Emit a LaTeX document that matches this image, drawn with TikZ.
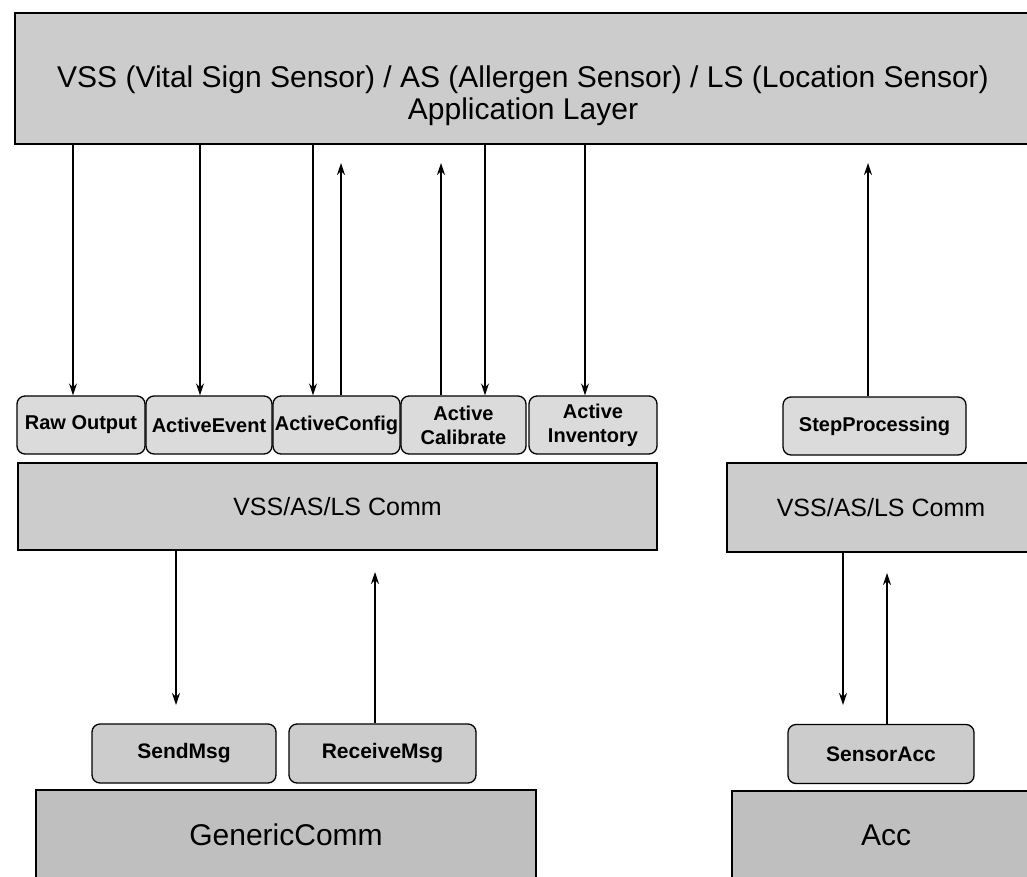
\documentclass[tikz,border=0pt]{standalone}
\usepackage{fontspec}
\setmainfont{Liberation Sans}
\usepackage{tikz}
\usetikzlibrary{positioning,arrows.meta}

\begin{document}
\begin{tikzpicture}[x=1pt, y=-1pt, >={Stealth[length=12pt,width=8pt]},
  layerbox/.style={draw, line width=1.8pt, fill=gray!40, inner sep=0pt},
  basebox/.style={draw, line width=1.8pt, fill=gray!50, inner sep=0pt, font=\fontsize{30}{34}\selectfont},
  callbox/.style={draw, line width=1.3pt, rounded corners=8pt, fill=gray!28, inner sep=1pt, align=center, minimum height=58pt, font=\bfseries\fontsize{20}{24}\selectfont},
  msgbox/.style={draw, line width=1.3pt, rounded corners=8pt, fill=gray!40, inner sep=1pt, minimum height=59pt, font=\bfseries\fontsize{21}{24}\selectfont},
  link/.style={->, line width=1.6pt}]
  \useasboundingbox (0,0) rectangle (1027,877);

  % application layer
  \node[layerbox, minimum width=1020pt, minimum height=131pt] (app) at (525,78.5) {};
  \node[align=center, font=\fontsize{30}{32}\selectfont] (apptitle) at (523,96) {VSS (Vital Sign Sensor) / AS (Allergen Sensor) / LS (Location Sensor)\\Application Layer};

  % left stack
  \node[callbox, minimum width=128pt] (raw) at (81,425) {Raw Output};
  \node[callbox, minimum width=126pt] (event) at (209,425) {ActiveEvent};
  \node[callbox, minimum width=127pt] (config) at (336.5,425) {ActiveConfig};
  \node[callbox, minimum width=125pt] (calib) at (463.5,425) {Active\\Calibrate};
  \node[callbox, minimum width=128pt] (inv) at (593,425) {Active\\Inventory};
  \node[layerbox, minimum width=639pt, minimum height=87pt, font=\fontsize{25}{30}\selectfont] (commL) at (337.5,506.5) {VSS/AS/LS Comm};
  \node[msgbox, minimum width=184pt] (send) at (184,753.5) {SendMsg};
  \node[msgbox, minimum width=187pt] (recv) at (382.5,753.5) {ReceiveMsg};
  \node[basebox, minimum width=500pt, minimum height=90pt] (generic) at (286,835) {GenericComm};

  % right stack
  \node[callbox, minimum width=183pt] (step) at (874.5,426) {StepProcessing};
  \node[layerbox, minimum width=308pt, minimum height=89pt, font=\fontsize{25}{30}\selectfont] (commR) at (881,507.5) {VSS/AS/LS Comm};
  \node[msgbox, minimum width=186pt] (sacc) at (881,754) {SensorAcc};
  \node[basebox, minimum width=308pt, minimum height=89pt] (acc) at (886,835.5) {Acc};

  % free ends
  \coordinate (cfgup) at (341,163);
  \coordinate (calup) at (441,163);
  \coordinate (stepup) at (868,163);
  \coordinate (senddown) at (176,705);
  \coordinate (recvup) at (375,572);
  \coordinate (saccdown) at (843,705);
  \coordinate (saccup) at (887,573);

  % application layer <-> calls
  \draw[link] ([xshift=-8pt]raw.north |- app.south) -- ([xshift=-8pt]raw.north);
  \draw[link] ([xshift=-9pt]event.north |- app.south) -- ([xshift=-9pt]event.north);
  \draw[link] ([xshift=-23.5pt]config.north |- app.south) -- ([xshift=-23.5pt]config.north);
  \draw[link] (config.north -| cfgup) -- (cfgup);
  \draw[link] (calib.north -| calup) -- (calup);
  \draw[link] ([xshift=21.5pt]calib.north |- app.south) -- ([xshift=21.5pt]calib.north);
  \draw[link] ([xshift=-8pt]inv.north |- app.south) -- ([xshift=-8pt]inv.north);
  \draw[link] (step.north -| stepup) -- (stepup);

  % comm <-> messages
  \draw[link] (commL.south -| senddown) -- (senddown);
  \draw[link] (recv.north -| recvup) -- (recvup);
  \draw[link] (commR.south -| saccdown) -- (saccdown);
  \draw[link] (sacc.north -| saccup) -- (saccup);
\end{tikzpicture}
\end{document}
